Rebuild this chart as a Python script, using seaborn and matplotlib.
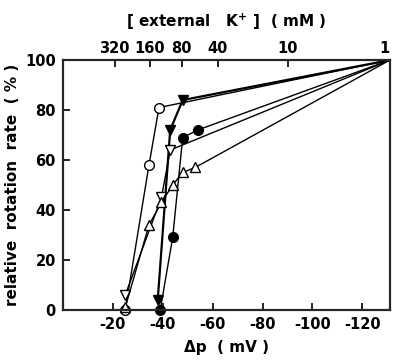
import matplotlib
matplotlib.use('Agg')
import matplotlib.pyplot as plt
import seaborn as sns

# data (delta p in mV, relative rotation rate in %)
open_circle_x = [-25, -34.5, -38.5, -131]
open_circle_y = [0, 58, 81, 100]

filled_tri_x = [-38, -43, -48, -131]
filled_tri_y = [4, 72, 84, 100]

filled_circle_x = [-39, -44, -48, -54, -131]
filled_circle_y = [0, 29, 69, 72, 100]

open_tri_down_x = [-25, -39.5, -43, -131]
open_tri_down_y = [6, 45, 64, 100]

open_tri_up_x = [-25, -34.5, -39.5, -44, -48, -53, -131]
open_tri_up_y = [1, 34, 43, 50, 55, 57, 100]

x_ticks = [-20, -40, -60, -80, -100, -120]
y_ticks = [0, 20, 40, 60, 80, 100]
k_labels = ['320', '160', '80', '40', '10', '1']
k_pos = [-20.7, -34.8, -47.6, -62, -90, -131]

sns.set_style('ticks')
plt.rcParams['font.family'] = ['DejaVu Sans']
plt.rcParams['font.weight'] = 'bold'
plt.rcParams['axes.unicode_minus'] = False
plt.rcParams['text.color'] = 'black'
plt.rcParams['axes.labelcolor'] = 'black'
plt.rcParams['xtick.color'] = 'black'
plt.rcParams['ytick.color'] = 'black'

fig = plt.figure(figsize=(3.93, 3.62), dpi=100)
ax = fig.add_axes([0.160, 0.144, 0.832, 0.690])

series = [
    (open_circle_x, open_circle_y, 'o', 'white', 1.0),
    (filled_tri_x, filled_tri_y, 'v', 'black', 1.6),
    (filled_circle_x, filled_circle_y, 'o', 'black', 1.0),
    (open_tri_down_x, open_tri_down_y, 'v', 'white', 1.0),
    (open_tri_up_x, open_tri_up_y, '^', 'white', 1.0),
]
for xs, ys, m, fc, lw in series:
    sns.lineplot(x=xs, y=ys, ax=ax, sort=False, color='black', linewidth=lw,
                 marker=m, markersize=7, markerfacecolor=fc,
                 markeredgecolor='black', markeredgewidth=1.0, clip_on=False,
                 zorder=3)
# the last point sits in the corner without a marker
for line in ax.lines:
    line.set_markevery(slice(0, -1))

ax.set_xlim(0, -131)
ax.set_ylim(0, 100)
ax.set_xticks(x_ticks)
ax.set_yticks(y_ticks)
ax.tick_params(direction='in', length=5, width=1.2, labelsize=10.5, pad=5)
for s in ax.spines.values():
    s.set_linewidth(1.5)
    s.set_color('black')
    s.set_visible(True)
ax.set_xlabel('Δp  ( mV )', fontsize=11, fontweight='bold', labelpad=6)
ax.set_ylabel('relative  rotation  rate  ( % )', fontsize=11, fontweight='bold', labelpad=4)

ax2 = ax.twiny()
ax2.set_xlim(ax.get_xlim())
ax2.set_xticks(k_pos)
ax2.set_xticklabels(k_labels)
ax2.tick_params(direction='in', length=5, width=1.2, labelsize=10.5, pad=3)
ax2.get_xticklabels()[-1].set_horizontalalignment('right')
ax2.set_xlabel('[ external   K$^{+}$ ]  ( mM )', fontsize=11, fontweight='bold', labelpad=10)
for s in ax2.spines.values():
    s.set_linewidth(1.5)

fig.savefig('out.png', dpi=100)
